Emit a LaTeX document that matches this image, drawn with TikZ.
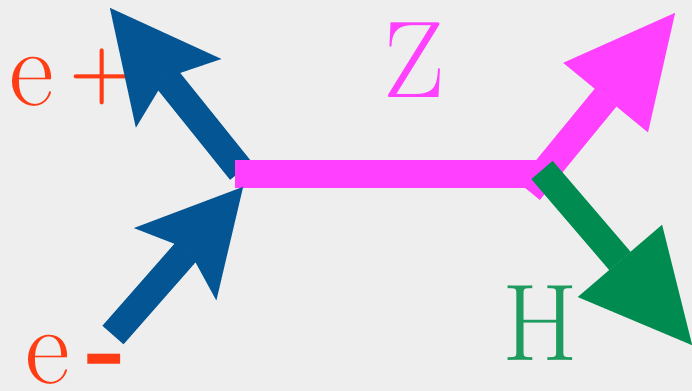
\documentclass[tikz,border=0pt]{standalone}
\usetikzlibrary{arrows.meta}

\definecolor{bggrey}{RGB}{238,238,238}
\definecolor{lepblue}{RGB}{4,85,148}
\definecolor{zpink}{RGB}{255,64,255}
\definecolor{hgreen}{RGB}{0,140,80}
\definecolor{hlabel}{RGB}{30,155,95}
\definecolor{elabel}{RGB}{255,60,20}

\begin{document}
\begin{tikzpicture}[x=0.75pt,y=-0.75pt,
    leg/.style={line width=21pt},
    lbl/.style={inner sep=0pt,anchor=base,font=\fontsize{82}{82}\selectfont}]
      \fill[bggrey] (0,0) rectangle (692,391);
      \useasboundingbox (0,0) rectangle (692,391);

      \coordinate (vout) at (241,171);
      \coordinate (vin) at (243,187);
      \coordinate (eplus) at (110,8);
      \coordinate (eminus) at (113,335);
      \coordinate (zl) at (235,174);
      \coordinate (zr) at (536,174);
      \coordinate (zk) at (529,191);
      \coordinate (zout) at (675,13);
      \coordinate (hk) at (542,170);
      \coordinate (hout) at (692,345);

      \node[lbl, anchor=base west, text=elabel] (ep) at (9,106)
        {e\kern12pt\raisebox{8pt}{\fontsize{56}{56}\selectfont\bfseries+}};
      \node[lbl, anchor=base west, text=elabel] (em) at (25,383) {e\kern13pt\textbf{-}};
      \node[lbl, text=zpink] (zz) at (414,98) {Z};
      \node[lbl, text=hlabel] (hh) at (540,360) {H};

      \draw[leg, lepblue, -{Stealth[length=82pt,width=82pt,inset=15pt,line width=0.01pt]}] (vout) to (eplus);
      \draw[leg, zpink] (zl) to (zr);
      \draw[leg, lepblue, -{Stealth[length=77pt,width=82pt,inset=15pt,line width=0.01pt]}] (eminus) to (vin);
      \draw[leg, zpink, -{Triangle[length=82pt,width=82pt,line width=0.01pt]}] (zk) to (zout);
      \draw[leg, hgreen, -{Triangle[length=83pt,width=83pt,line width=0.01pt]}] (hk) to (hout);
    \end{tikzpicture}
\end{document}
